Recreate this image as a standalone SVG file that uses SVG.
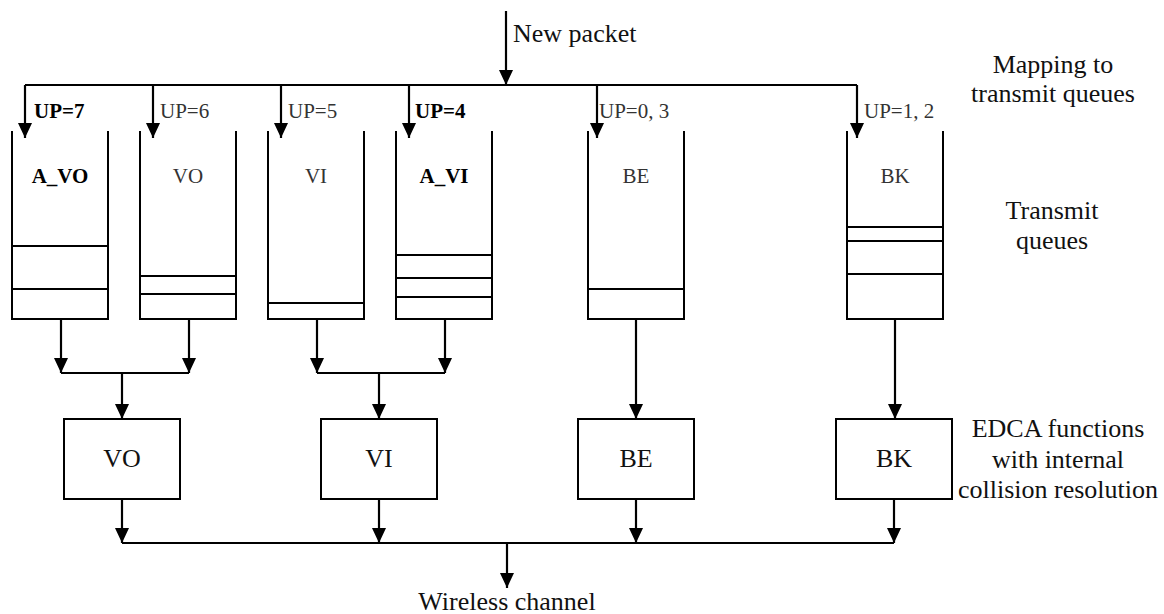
<svg xmlns="http://www.w3.org/2000/svg" width="1164" height="614" viewBox="0 0 1164 614">
<style>
  .q { fill: none; stroke: #000; stroke-width: 2; }
  .div { stroke: #000; stroke-width: 2; }
  .box { fill: #fff; stroke: #000; stroke-width: 2; }
  .con { fill: none; stroke: #000; stroke-width: 2.2; }
  .big { font-family: "Liberation Serif", serif; font-size: 26px; fill: #111; }
  .ql { font-family: "Liberation Serif", serif; font-size: 21px; fill: #333; text-anchor: middle; }
  .qlb { font-family: "Liberation Serif", serif; font-size: 21px; fill: #000; font-weight: bold; text-anchor: middle; }
  .up { font-family: "Liberation Serif", serif; font-size: 21px; fill: #333; }
  .upb { font-family: "Liberation Serif", serif; font-size: 21px; fill: #000; font-weight: bold; }
  .mid { text-anchor: middle; }
</style>
<defs>
  <marker id="ah" viewBox="0 0 15 14" refX="15" refY="7" markerWidth="15" markerHeight="14" markerUnits="userSpaceOnUse" orient="auto">
    <path d="M0,0 L15,7 L0,14 Z" fill="#000"/>
  </marker>
</defs>
<rect width="1164" height="614" fill="#fff"/>

<!-- connectors -->
<g id="connectors" class="con">
  <!-- new packet -->
  <path d="M506,11 V85" marker-end="url(#ah)"/>
  <!-- mapping bus -->
  <path d="M25,85 H857"/>
  <path d="M25,85 V138" marker-end="url(#ah)"/>
  <path d="M153,85 V138" marker-end="url(#ah)"/>
  <path d="M281,85 V138" marker-end="url(#ah)"/>
  <path d="M409,85 V138" marker-end="url(#ah)"/>
  <path d="M597,85 V138" marker-end="url(#ah)"/>
  <path d="M857,85 V138" marker-end="url(#ah)"/>
  <!-- queue outputs -->
  <path d="M61,319 V373" marker-end="url(#ah)"/>
  <path d="M189,319 V373" marker-end="url(#ah)"/>
  <path d="M61,373 H189"/>
  <path d="M122,373 V419" marker-end="url(#ah)"/>
  <path d="M317,319 V373" marker-end="url(#ah)"/>
  <path d="M445,319 V373" marker-end="url(#ah)"/>
  <path d="M317,373 H445"/>
  <path d="M379,373 V419" marker-end="url(#ah)"/>
  <path d="M636,319 V419" marker-end="url(#ah)"/>
  <path d="M895,319 V419" marker-end="url(#ah)"/>
  <!-- EDCA outputs -->
  <path d="M122,499 V543" marker-end="url(#ah)"/>
  <path d="M379,499 V543" marker-end="url(#ah)"/>
  <path d="M636,499 V543" marker-end="url(#ah)"/>
  <path d="M894,499 V543" marker-end="url(#ah)"/>
  <path d="M122,543 H894"/>
  <path d="M507,543 V588" marker-end="url(#ah)"/>
</g>

<!-- labels on mapping arrows -->
<g id="up-labels">
  <text class="upb" x="34" y="118">UP=7</text>
  <text class="up" x="160" y="118">UP=6</text>
  <text class="up" x="288" y="118">UP=5</text>
  <text class="upb" x="415" y="118">UP=4</text>
  <text class="up" x="599" y="118">UP=0, 3</text>
  <text class="up" x="864" y="118">UP=1, 2</text>
</g>

<!-- transmit queues -->
<g id="queue-avo">
  <path class="q" d="M12,131 V319 H108 V131"/>
  <line class="div" x1="12" y1="246" x2="108" y2="246"/>
  <line class="div" x1="12" y1="289" x2="108" y2="289"/>
  <text class="qlb" x="60" y="183">A_VO</text>
</g>
<g id="queue-vo">
  <path class="q" d="M140,131 V319 H236 V131"/>
  <line class="div" x1="140" y1="276" x2="236" y2="276"/>
  <line class="div" x1="140" y1="294" x2="236" y2="294"/>
  <text class="ql" x="188" y="183">VO</text>
</g>
<g id="queue-vi">
  <path class="q" d="M268,131 V319 H364 V131"/>
  <line class="div" x1="268" y1="303" x2="364" y2="303"/>
  <text class="ql" x="316" y="183">VI</text>
</g>
<g id="queue-avi">
  <path class="q" d="M396,131 V319 H492 V131"/>
  <line class="div" x1="396" y1="255" x2="492" y2="255"/>
  <line class="div" x1="396" y1="278" x2="492" y2="278"/>
  <line class="div" x1="396" y1="297" x2="492" y2="297"/>
  <text class="qlb" x="444" y="183">A_VI</text>
</g>
<g id="queue-be">
  <path class="q" d="M588,131 V319 H684 V131"/>
  <line class="div" x1="588" y1="289" x2="684" y2="289"/>
  <text class="ql" x="636" y="183">BE</text>
</g>
<g id="queue-bk">
  <path class="q" d="M847,131 V319 H943 V131"/>
  <line class="div" x1="847" y1="227" x2="943" y2="227"/>
  <line class="div" x1="847" y1="241" x2="943" y2="241"/>
  <line class="div" x1="847" y1="274" x2="943" y2="274"/>
  <text class="ql" x="895" y="183">BK</text>
</g>

<!-- EDCA functions -->
<g id="edca-vo">
  <rect class="box" x="64" y="419" width="116" height="80"/>
  <text class="big mid" x="122" y="467">VO</text>
</g>
<g id="edca-vi">
  <rect class="box" x="321" y="419" width="116" height="80"/>
  <text class="big mid" x="379" y="467">VI</text>
</g>
<g id="edca-be">
  <rect class="box" x="578" y="419" width="116" height="80"/>
  <text class="big mid" x="636" y="467">BE</text>
</g>
<g id="edca-bk">
  <rect class="box" x="836" y="419" width="116" height="80"/>
  <text class="big mid" x="894" y="467">BK</text>
</g>

<!-- side / end labels -->
<g id="label-new-packet">
  <text class="big" x="513" y="42">New packet</text>
</g>
<g id="label-mapping">
  <text class="big mid" x="1053" y="73">Mapping to</text>
  <text class="big mid" x="1053" y="102">transmit queues</text>
</g>
<g id="label-transmit">
  <text class="big mid" x="1052" y="219">Transmit</text>
  <text class="big mid" x="1052" y="249">queues</text>
</g>
<g id="label-edca">
  <text class="big mid" x="1058" y="437">EDCA functions</text>
  <text class="big mid" x="1058" y="468">with internal</text>
  <text class="big mid" x="1058" y="498">collision resolution</text>
</g>
<g id="label-wireless">
  <text class="big mid" x="507" y="610">Wireless channel</text>
</g>
</svg>
